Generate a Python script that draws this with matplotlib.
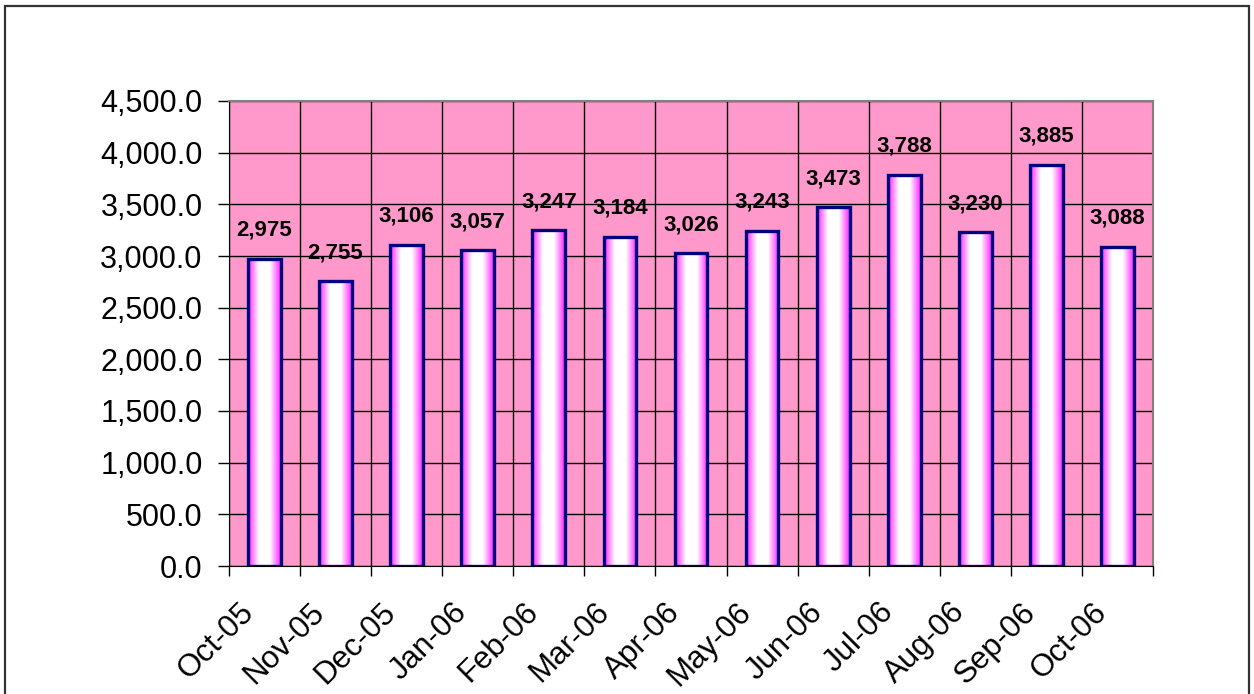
import numpy as np
import matplotlib.pyplot as plt
from matplotlib.colors import LinearSegmentedColormap
from matplotlib.patches import Rectangle
from matplotlib.ticker import FuncFormatter, MultipleLocator, NullFormatter

months = ['Oct-05', 'Nov-05', 'Dec-05', 'Jan-06', 'Feb-06', 'Mar-06', 'Apr-06',
          'May-06', 'Jun-06', 'Jul-06', 'Aug-06', 'Sep-06', 'Oct-06']
values = [2975, 2755, 3106, 3057, 3247, 3184, 3026, 3243, 3473, 3788, 3230, 3885, 3088]

plt.rcParams['font.family'] = ['Liberation Sans', 'DejaVu Sans']

fig = plt.figure(figsize=(12.54, 6.94), dpi=100)
ax = fig.add_axes([229 / 1254, 1 - 566 / 694, 924 / 1254, 465 / 694])
ax.set_facecolor('#FF99CC')

# frame around the whole chart
fig.patches.append(Rectangle((5 / 1254, -0.1), 1244 / 1254, 1.1 - 6 / 694,
                             transform=fig.transFigure, fill=False,
                             edgecolor='#333333', lw=1.6))

grad = LinearSegmentedColormap.from_list('g', ['#FF22FF', '#FFFFFF', '#FFFFFF', '#FF22FF'])
strip = np.linspace(0, 1, 200).reshape(1, -1)
w = 0.46
x = np.arange(len(values))
for i, v in enumerate(values):
    ax.imshow(strip, cmap=grad, extent=[i - w / 2, i + w / 2, 0, v],
              aspect='auto', zorder=2, interpolation='bilinear')
ax.bar(x, values, width=w, facecolor='none', edgecolor='#000080', lw=2.4, zorder=3)

for i, v in enumerate(values):
    ax.annotate(f'{v:,}', (i, v), xytext=(0, 13), textcoords='offset points',
                ha='center', va='bottom', fontsize=16, fontweight='bold')

# category labels, rotated, a bit left of the bar centre like the original
for i, m in enumerate(months):
    ax.annotate(m, (i, 0), xycoords=('data', 'axes fraction'), xytext=(-11, -30),
                textcoords='offset points', rotation=45, ha='right', va='center',
                rotation_mode='anchor', fontsize=22.5, annotation_clip=False)

ax.set_xlim(-0.5, len(values) - 0.5)
ax.set_ylim(0, 4500)
ax.yaxis.set_major_locator(MultipleLocator(500))
ax.yaxis.set_major_formatter(FuncFormatter(lambda v, p: f'{v:,.1f}'))
ax.set_xticks(np.arange(len(values) + 1) - 0.5)
ax.xaxis.set_major_formatter(NullFormatter())
ax.tick_params(axis='x', length=7, width=1, direction='out')
ax.tick_params(axis='y', length=8, width=1, labelsize=22, pad=11)

ax.grid(True, which='major', color='black', lw=1, zorder=1)
ax.set_axisbelow(True)
for s in ['top', 'right']:
    ax.spines[s].set_color('#808080')
    ax.spines[s].set_linewidth(1.5)
for s in ['left', 'bottom']:
    ax.spines[s].set_color('black')

fig.savefig('out.png', dpi=100)
